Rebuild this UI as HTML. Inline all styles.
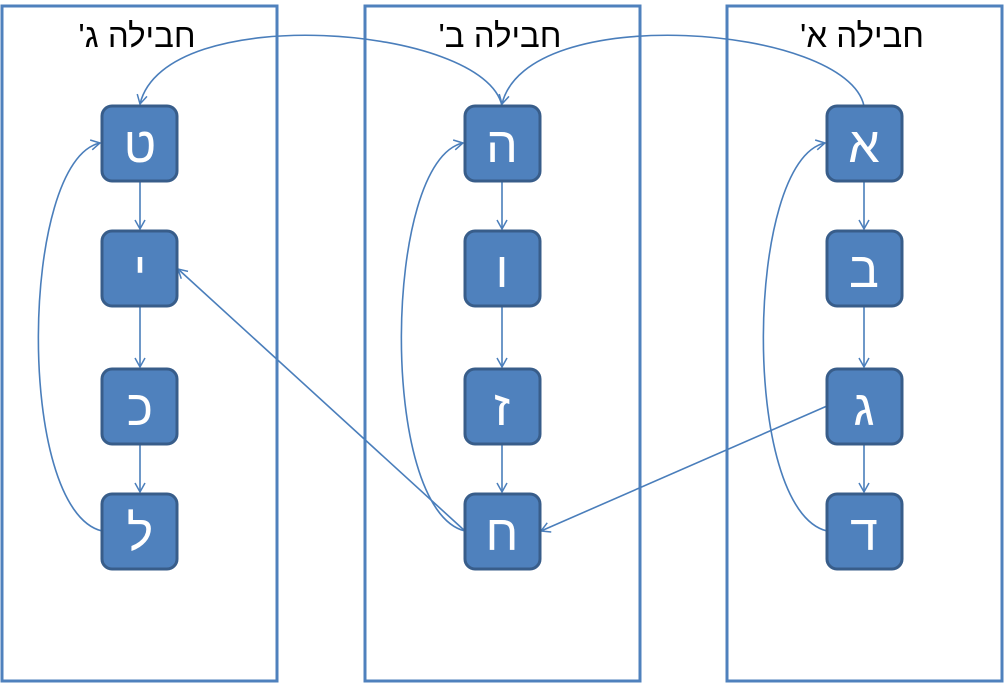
<!DOCTYPE html>
<html><head><meta charset="utf-8"><style>
body{margin:0;background:#fff;width:1004px;height:683px;overflow:hidden}
</style></head><body>
<svg width="1004" height="683" xmlns="http://www.w3.org/2000/svg" font-family="Liberation Sans, DejaVu Sans, sans-serif">
<defs>
<marker id="a" markerWidth="12" markerHeight="12" refX="10" refY="6" orient="auto" markerUnits="userSpaceOnUse">
<path d="M1,1 L10,6 L1,11" fill="none" stroke="#4a7ebb" stroke-width="1.5"/>
</marker>
</defs>
<g fill="none" stroke="#4f81bd" stroke-width="3">
<rect x="2" y="6" width="275" height="675"/>
<rect x="365" y="6" width="275" height="675"/>
<rect x="727" y="6" width="275" height="675"/>
</g>
<g font-size="33" text-anchor="middle" fill="#000" direction="rtl">
<text x="137" y="47">חבילה ג'</text>
<text x="500" y="47">חבילה ב'</text>
<text x="862" y="47">חבילה א'</text>
</g>
<g fill="none" stroke="#4a7ebb" stroke-width="1.6" marker-end="url(#a)">
<path d="M502,106 C485,25 165,0 140,104"/>
<path d="M864,106 C847,25 527,0 502,104"/>
<path d="M102,531 C15,510 20,160 100,143"/>
<path d="M465,531 C378,510 383,160 463,143"/>
<path d="M827,531 C740,510 745,160 825,143"/>
<path d="M465,531 L178,269"/>
<path d="M827,406 L541,531"/>
<path d="M140,181 L140,229"/>
<path d="M140,306 L140,367"/>
<path d="M140,444 L140,492"/>
<path d="M502,181 L502,229"/>
<path d="M502,306 L502,367"/>
<path d="M502,444 L502,492"/>
<path d="M864,181 L864,229"/>
<path d="M864,306 L864,367"/>
<path d="M864,444 L864,492"/>
</g>
<g fill="#4f81bd" stroke="#385d8a" stroke-width="3">
<rect x="102" y="106" width="75" height="75" rx="10"/>
<rect x="102" y="231" width="75" height="75" rx="10"/>
<rect x="102" y="369" width="75" height="75" rx="10"/>
<rect x="102" y="494" width="75" height="75" rx="10"/>
<rect x="465" y="106" width="75" height="75" rx="10"/>
<rect x="465" y="231" width="75" height="75" rx="10"/>
<rect x="465" y="369" width="75" height="75" rx="10"/>
<rect x="465" y="494" width="75" height="75" rx="10"/>
<rect x="827" y="106" width="75" height="75" rx="10"/>
<rect x="827" y="231" width="75" height="75" rx="10"/>
<rect x="827" y="369" width="75" height="75" rx="10"/>
<rect x="827" y="494" width="75" height="75" rx="10"/>
</g>
<g font-size="50" text-anchor="middle" fill="#fff">
<text x="140" y="162">ט</text>
<text x="140" y="287">י</text>
<text x="140" y="425">כ</text>
<text x="140" y="550">ל</text>
<text x="502" y="162">ה</text>
<text x="502" y="287">ו</text>
<text x="502" y="425">ז</text>
<text x="502" y="550">ח</text>
<text x="864" y="162">א</text>
<text x="864" y="287">ב</text>
<text x="864" y="425">ג</text>
<text x="864" y="550">ד</text>
</g>
</svg>
</body></html>
